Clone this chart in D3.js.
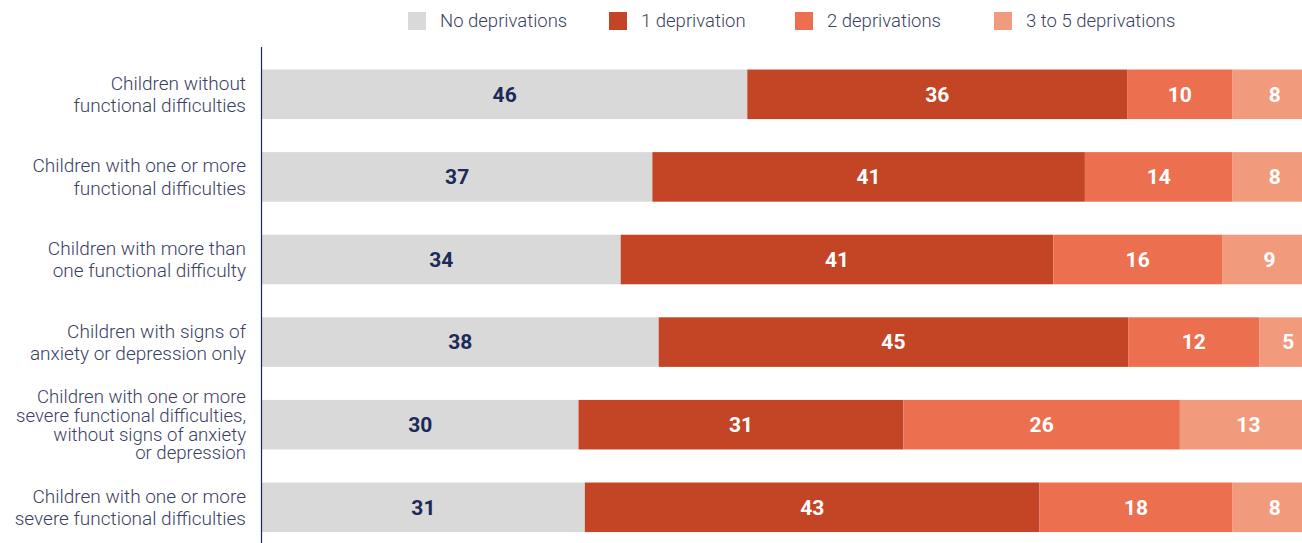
<!DOCTYPE html>
<html>
<head>
<meta charset="utf-8">
<script src="https://cdn.jsdelivr.net/npm/d3@7"></script>
<style>
  html, body { margin: 0; padding: 0; background: #fff; }
  svg { display: block; font-family: Roboto, "Liberation Sans", sans-serif; }
</style>
</head>
<body>
<div id="chart"></div>
<script>
// ---- data ----
const categories = [
  ["Children without", "functional difficulties"],
  ["Children with one or more", "functional difficulties"],
  ["Children with more than", "one functional difficulty"],
  ["Children with signs of", "anxiety or depression only"],
  ["Children with one or more", "severe functional difficulties,", "without signs of anxiety", "or depression"],
  ["Children with one or more", "severe functional difficulties"]
];
const seriesNames = ["No deprivations", "1 deprivation", "2 deprivations", "3 to 5 deprivations"];
const noDeprivations = [46, 37, 34, 37.6, 30, 30.6];
const oneDeprivation = [36, 41, 41, 44.5, 30.8, 43.1];
const twoDeprivations = [10, 14, 16, 12.45, 26.2, 18.3];
const threeToFive = [8, 8, 9, 5.45, 13, 8];
const seriesValues = [noDeprivations, oneDeprivation, twoDeprivations, threeToFive];

// ---- styles ----
const colors = ["#d9d9d9", "#c34526", "#ec6f4f", "#f29a7c"];
const labelColors = ["#1d2a57", "#ffffff", "#ffffff", "#ffffff"];
const textColor = "#3b4163";
const navy = "#1d2a57";

const W = 1302, H = 543;
const svg = d3.select("#chart").append("svg").attr("width", W).attr("height", H);
svg.append("rect").attr("width", W).attr("height", H).attr("fill", "#fff");

const x = d3.scaleLinear().domain([0, 100]).range([262, 1317]);
const y = d3.scaleBand().domain(d3.range(categories.length)).range([53, 548.6]).paddingInner(0.4).paddingOuter(0.2);

const rows = categories.map((c, i) => {
  let acc = 0;
  return seriesValues.map((s, j) => {
    const seg = { row: i, series: j, x0: acc, x1: acc + s[i], v: s[i] };
    acc += s[i];
    return seg;
  });
});

const g = svg.append("g");
rows.forEach(segs => {
  g.selectAll(null).data(segs).enter().append("rect")
    .attr("x", d => x(d.x0))
    .attr("y", d => y(d.row))
    .attr("width", d => x(d.x1) - x(d.x0))
    .attr("height", y.bandwidth())
    .attr("fill", d => colors[d.series]);
  g.selectAll(null).data(segs).enter().append("text")
    .attr("x", d => (x(d.x0) + x(d.x1)) / 2)
    .attr("y", d => y(d.row) + y.bandwidth() / 2)
    .attr("dy", "0.35em")
    .attr("text-anchor", "middle")
    .attr("font-size", 21)
    .attr("font-weight", 700)
    .attr("fill", d => labelColors[d.series])
    .text(d => Math.round(d.v));
});

// axis line
svg.append("line").attr("x1", 261.5).attr("x2", 261.5).attr("y1", 47).attr("y2", H)
  .attr("stroke", navy).attr("stroke-width", 1.2);

// category labels
categories.forEach((lines, i) => {
  const lh = lines.length > 2 ? 18.7 : 22.3;
  const cy = y(i) + y.bandwidth() / 2;
  const t = svg.append("text")
    .attr("text-anchor", "end")
    .attr("font-size", lines.length > 2 ? 18.6 : 19)
    .attr("font-weight", 300)
    .attr("fill", textColor);
  lines.forEach((ln, k) => {
    t.append("tspan")
      .attr("x", 246)
      .attr("y", cy + (k - (lines.length - 1) / 2) * lh)
      .attr("dy", "0.35em")
      .text(ln);
  });
});

// legend
const legendX = [408, 609, 795, 994];
const lg = svg.append("g");
seriesNames.forEach((name, i) => {
  lg.append("rect").attr("x", legendX[i]).attr("y", 12).attr("width", 18).attr("height", 18).attr("fill", colors[i]);
  lg.append("text").attr("x", legendX[i] + 32).attr("y", 21).attr("dy", "0.35em")
    .attr("font-size", 18.5).attr("font-weight", 300).attr("fill", textColor).text(name);
});
</script>
</body>
</html>
